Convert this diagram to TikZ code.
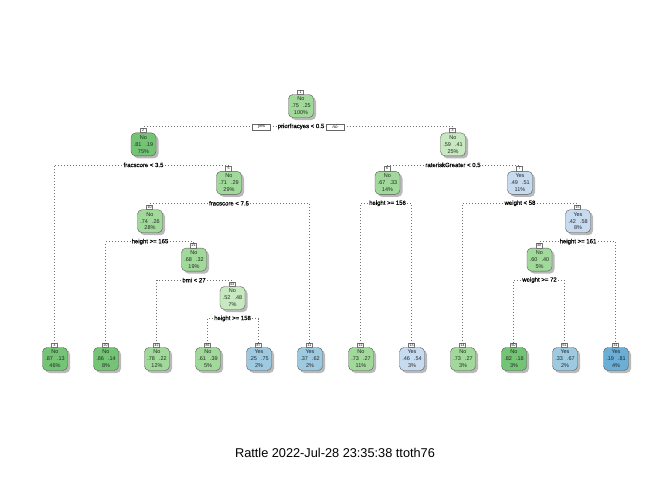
\documentclass[tikz,border=0pt]{standalone}
\usepackage{fontspec}
\setmainfont{Liberation Sans}
\usetikzlibrary{shadows}
\definecolor{gA}{HTML}{74C476}
\definecolor{gB}{HTML}{A1D99B}
\definecolor{gC}{HTML}{C7E9C0}
\definecolor{bA}{HTML}{6BAED6}
\definecolor{bB}{HTML}{9ECAE1}
\definecolor{bC}{HTML}{C6DBEF}
\tikzset{
  treebox/.style={draw=black!65, line width=0.4pt, rounded corners=4.5pt,
    minimum width=25pt, minimum height=23pt, inner sep=0pt, align=center,
    font=\fontsize{5.5}{6.9}\selectfont, text=black!85,
    drop shadow={shadow xshift=2.5pt, shadow yshift=-2.5pt, fill=black!30, opacity=0.9}},
  numtab/.style={draw=black!55, fill=white, line width=0.3pt, minimum width=6pt,
    minimum height=4.5pt, inner sep=0pt, font=\fontsize{3.5}{3.5}\selectfont, anchor=south},
  splitlab/.style={inner sep=1.2pt, font=\fontsize{6}{6}\selectfont\addfontfeatures{FakeBold=0.6}, text=black},
  conn/.style={draw=black!55, line width=0.55pt, dash pattern=on 0.7pt off 2.3pt},
  ynbox/.style={draw=black!60, fill=white, line width=0.35pt, inner sep=0pt,
    minimum width=18pt, minimum height=6pt, font=\fontsize{4.5}{4.5}\selectfont\itshape},
  caption/.style={font=\fontsize{12.75}{13}\selectfont, text=black}
}
\newcommand{\tnode}[7]{%
  \node[treebox, fill=#4] (n#1) at (#2,#3) {#5\\#6\\#7};
  \node[numtab] (t#1) at ([xshift=-0.5pt]n#1.north) {#1};
}
\begin{document}
\begin{tikzpicture}[x=1pt,y=-1pt]
\useasboundingbox[fill=white] (0,0) rectangle (672,480);
% internal nodes
\tnode{1}{301}{106}{gB}{No}{.75\hspace{4pt}.25}{100\%}
\tnode{2}{143.5}{144.4}{gA}{No}{.81\hspace{4pt}.19}{75\%}
\tnode{3}{453}{144.4}{gC}{No}{.59\hspace{4pt}.41}{25\%}
\tnode{5}{229}{182.8}{gB}{No}{.71\hspace{4pt}.29}{29\%}
\tnode{6}{387.5}{182.8}{gB}{No}{.67\hspace{4pt}.33}{14\%}
\tnode{7}{520}{182.8}{bC}{Yes}{.49\hspace{4pt}.51}{11\%}
\tnode{10}{150}{221.2}{gB}{No}{.74\hspace{4pt}.26}{28\%}
\tnode{15}{578}{221.2}{bC}{Yes}{.42\hspace{4pt}.58}{8\%}
\tnode{21}{194}{259.6}{gB}{No}{.68\hspace{4pt}.32}{19\%}
\tnode{30}{539.5}{259.6}{gB}{No}{.60\hspace{4pt}.40}{5\%}
\tnode{43}{232.5}{298}{gC}{No}{.52\hspace{4pt}.48}{7\%}
% leaves
\tnode{4}{55}{359}{gA}{No}{.87\hspace{4pt}.13}{46\%}
\tnode{20}{106}{359}{gA}{No}{.86\hspace{4pt}.14}{8\%}
\tnode{42}{157}{359}{gB}{No}{.78\hspace{4pt}.22}{12\%}
\tnode{86}{208}{359}{gB}{No}{.61\hspace{4pt}.39}{5\%}
\tnode{87}{259}{359}{bB}{Yes}{.25\hspace{4pt}.75}{2\%}
\tnode{11}{310}{359}{bB}{Yes}{.37\hspace{4pt}.62}{2\%}
\tnode{12}{361}{359}{gB}{No}{.73\hspace{4pt}.27}{11\%}
\tnode{13}{412}{359}{bC}{Yes}{.46\hspace{4pt}.54}{3\%}
\tnode{14}{463}{359}{gB}{No}{.73\hspace{4pt}.27}{3\%}
\tnode{60}{514}{359}{gA}{No}{.82\hspace{4pt}.18}{3\%}
\tnode{61}{565}{359}{bB}{Yes}{.33\hspace{4pt}.67}{2\%}
\tnode{31}{616}{359}{bA}{Yes}{.19\hspace{4pt}.81}{4\%}
% split labels
\node[splitlab] (s1) at (301,126.5) {priorfracyes < 0.5};
\node[splitlab] (s2) at (143.5,164.9) {fracscore < 3.5};
\node[splitlab] (s3) at (453,164.9) {rateriskGreater < 0.5};
\node[splitlab] (s5) at (229,203.3) {fracscore < 7.5};
\node[splitlab] (s6) at (387.5,203.3) {height >= 156};
\node[splitlab] (s7) at (520,203.3) {weight < 58};
\node[splitlab] (s10) at (150,241.7) {height >= 165};
\node[splitlab] (s15) at (578,241.7) {height >= 161};
\node[splitlab] (s21) at (194,280.1) {bmi < 27};
\node[splitlab] (s30) at (539.5,280.1) {weight >= 72};
\node[splitlab] (s43) at (232.5,318.5) {height >= 158};
% connectors
\draw[conn] (s1.west) -| (t2.north);  \draw[conn] (s1.east) -| (t3.north);
\draw[conn] (s2.west) -| (t4.north);  \draw[conn] (s2.east) -| (t5.north);
\draw[conn] (s3.west) -| (t6.north);  \draw[conn] (s3.east) -| (t7.north);
\draw[conn] (s5.west) -| (t10.north); \draw[conn] (s5.east) -| (t11.north);
\draw[conn] (s6.west) -| (t12.north); \draw[conn] (s6.east) -| (t13.north);
\draw[conn] (s7.west) -| (t14.north); \draw[conn] (s7.east) -| (t15.north);
\draw[conn] (s10.west) -| (t20.north); \draw[conn] (s10.east) -| (t21.north);
\draw[conn] (s15.west) -| (t30.north); \draw[conn] (s15.east) -| (t31.north);
\draw[conn] (s21.west) -| (t42.north); \draw[conn] (s21.east) -| (t43.north);
\draw[conn] (s30.west) -| (t60.north); \draw[conn] (s30.east) -| (t61.north);
\draw[conn] (s43.west) -| (t86.north); \draw[conn] (s43.east) -| (t87.north);
% yes / no
\node[ynbox] (yes) at (261.5,127) {yes};
\node[ynbox] (no) at (335,127) {no};
% caption
\node[caption] (cap) at (335,453) {Rattle 2022-Jul-28 23:35:38 ttoth76};
\end{tikzpicture}
\end{document}
